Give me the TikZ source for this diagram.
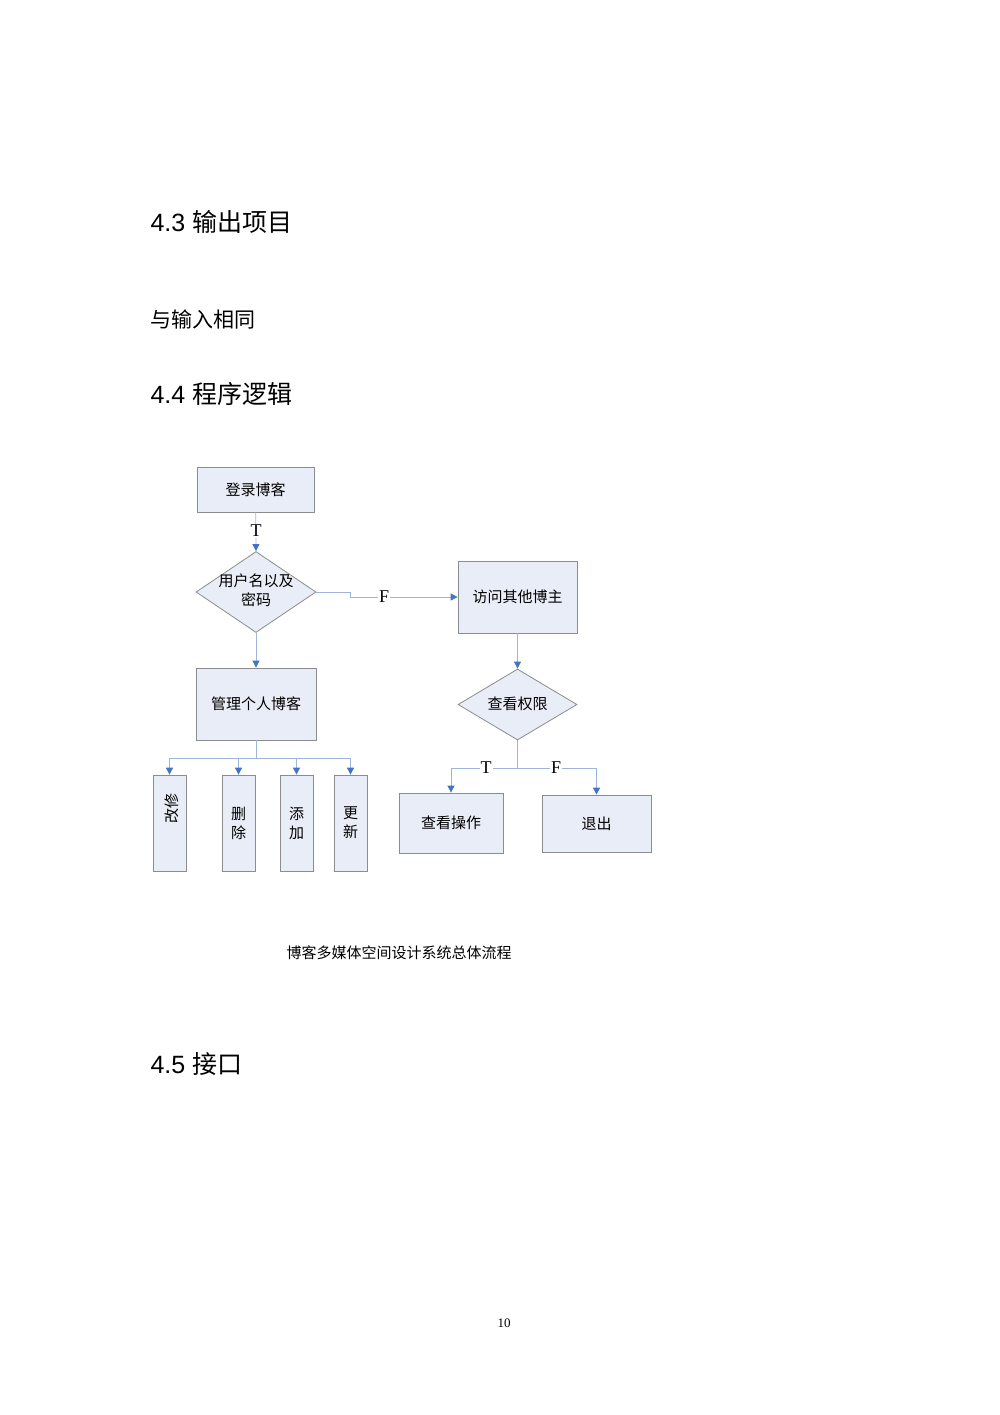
\documentclass[tikz,border=0pt]{standalone}
\usepackage{fontspec}
\setmainfont{Liberation Serif}
\newfontfamily\cjk{Noto Sans CJK SC}
\newfontfamily\hsans{Liberation Sans}
\usetikzlibrary{shapes.geometric,arrows.meta}
\definecolor{boxfill}{HTML}{E9EDF7}
\definecolor{boxline}{HTML}{8C8C8C}
\definecolor{conn}{HTML}{9DB5D8}
\definecolor{tip}{HTML}{4472C4}
\begin{document}
\begin{tikzpicture}[x=1pt,y=-1pt,
  box/.style={draw=boxline,fill=boxfill,line width=0.8pt,inner sep=0pt},
  dia/.style={draw=boxline,fill=boxfill,line width=0.8pt,diamond,inner sep=0pt},
  t/.style={font=\cjk\fontsize{15}{19}\selectfont,align=center},
  c/.style={draw=conn,line width=0.8pt},
  a/.style={c,-{Triangle[length=7pt,width=7pt,fill=tip,color=tip]}},
  lab/.style={font=\fontsize{18}{18}\selectfont,fill=white,inner sep=1pt},
  head/.style={anchor=west,font=\fontsize{25}{28}\selectfont}]
\useasboundingbox (0,0) rectangle (1000,1415);
\node[head] (h1) at (147,222) {\hsans 4.3 \cjk 输出项目};
\node[head,font=\cjk\fontsize{21}{24}\selectfont] (h2) at (147,320) {与输入相同};
\node[head] (h3) at (147,394) {\hsans 4.4 \cjk 程序逻辑};
\node[head] (h4) at (147,1064) {\hsans 4.5 \cjk 接口};

\node[box,minimum width=117pt,minimum height=45pt,t] (login) at (255.5,489.5) {登录博客};
\node[dia,minimum width=120pt,minimum height=81pt] (user) at (256,592) {};
\node[t] (usert) at (256,590) {用户名以及\\密码};
\node[box,minimum width=119pt,minimum height=72pt,t] (visit) at (517.5,597) {访问其他博主};
\node[box,minimum width=120pt,minimum height=72pt,t] (manage) at (256,704) {管理个人博客};
\node[dia,minimum width=119pt,minimum height=71pt,t] (perm) at (517.5,704.5) {};
\node[t] (permt) at (517.5,704) {查看权限};
\node[box,minimum width=33pt,minimum height=96pt] (b1) at (169.5,823) {};
\node[t,rotate=90] (b1t) at (172,808) {改修};
\node[box,minimum width=33pt,minimum height=96pt,t] (b2) at (238.5,823) {删\\除};
\node[box,minimum width=33pt,minimum height=96pt,t] (b3) at (296.5,823) {添\\加};
\node[box,minimum width=33pt,minimum height=96pt,t] (b4) at (350.5,823) {更\\新};
\node[box,minimum width=104pt,minimum height=60pt,t] (view) at (451,823) {查看操作};
\node[box,minimum width=109pt,minimum height=57pt,t] (quit) at (596.5,823.5) {退出};

\draw[a] (login) -- (user.north);
\node[lab] (lt) at (256,531) {T};
\coordinate (f1) at (350,592);
\coordinate (f2) at (350,597);
\draw[a] (user.east) -- (f1) -- (f2) -- (visit.west);
\node[lab] (lf) at (384,597) {F};
\draw[a] (user.south) -- (manage);
\draw[a] (visit) -- (perm.north);

\coordinate (m1) at (256,758);
\draw[c] (manage.south) -- (m1);
\draw[a] (m1) -| (b1.north);
\draw[a] (m1) -| (b2.north);
\draw[a] (m1) -| (b3.north);
\draw[a] (m1) -| (b4.north);

\coordinate (p1) at (517.5,768);
\draw[c] (perm.south) -- (p1);
\draw[a] (p1) -| (view.north);
\draw[a] (p1) -| (quit.north);
\node[lab] (pt) at (486,768) {T};
\node[lab] (pf) at (556,768) {F};

\node[t] (cap) at (399,953) {博客多媒体空间设计系统总体流程};
\node[font=\fontsize{13}{13}\selectfont] (pg) at (504,1323) {10};
\end{tikzpicture}
\end{document}
